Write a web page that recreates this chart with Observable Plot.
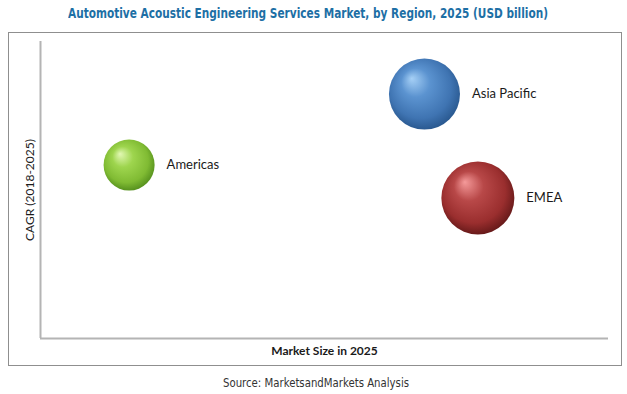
<!DOCTYPE html>
<html>
<head>
<meta charset="utf-8">
<script src="https://cdn.jsdelivr.net/npm/d3@7"></script>
<script src="https://cdn.jsdelivr.net/npm/@observablehq/plot@0.6"></script>
<style>
  body { margin: 0; background: #fff; width: 627px; height: 394px; position: relative; overflow: hidden; }
  .fit { position: absolute; white-space: nowrap; transform-origin: 0 0; }
  #title { top: 5px; font-family: "DejaVu Sans Condensed", "Liberation Sans", sans-serif; font-stretch: condensed;
    font-weight: bold; font-size: 14px; color: #1d6fa5; }
  #box { position: absolute; left: 8px; top: 32px; width: 612px; height: 332px; border: 1px solid #8f8f8f; }
  #box svg { display: block; }
  #source { top: 375px; font-family: "DejaVu Sans Condensed", "Liberation Sans", sans-serif; font-stretch: condensed;
    font-size: 12.5px; color: #333; }
</style>
</head>
<body>
<span id="title" class="fit">Automotive Acoustic Engineering Services Market, by Region, 2025 (USD billion)</span>
<div id="box"></div>
<span id="source" class="fit">Source: MarketsandMarkets Analysis</span>
<script>
const regions = ["Asia Pacific", "EMEA", "Americas"];
const marketSize = [67.6, 77.0, 15.6];   // x: market size in 2025 (relative)
const cagr = [82.3, 47.3, 58.4];         // y: CAGR 2018-2025 (relative)
const bubbleSize = [12.6, 13.3, 6.5];    // bubble size (relative)
const xLabel = "Market Size in 2025";
const yLabel = "CAGR (2018-2025)";

const gradients = {
  "Asia Pacific": ["#a6d0f6", "#5b93d0", "#3f74b2", "#26548a"],
  "EMEA": ["#f59a9a", "#b84848", "#9a2e2e", "#5e1616"],
  "Americas": ["#e2f8b4", "#9ed54e", "#80bb33", "#4f8a1a"]
};
const gid = r => "grad-" + r.replace(/\s+/g, "-");

const rMax = 36.5;
const rScale = d3.scaleSqrt().domain([0, d3.max(bubbleSize)]).range([0, rMax]);

const data = regions.map((r, i) => ({region: r, x: marketSize[i], y: cagr[i], size: bubbleSize[i]}));

const labelFont = "Lato, 'Open Sans', sans-serif";

const chart = Plot.plot({
  width: 612,
  height: 332,
  marginLeft: 31,
  marginTop: 8,
  marginBottom: 27,
  marginRight: 13,
  x: {domain: [0, 100], axis: null},
  y: {domain: [0, 100], axis: null},
  r: {domain: [0, d3.max(bubbleSize)], range: [0, rMax]},
  color: {domain: regions, range: regions.map(r => `url(#${gid(r)})`)},
  style: {fontFamily: labelFont, background: "transparent"},
  marks: [
    Plot.ruleX([0], {stroke: "#b4b4b4", strokeWidth: 2}),
    Plot.ruleY([0], {stroke: "#b4b4b4", strokeWidth: 2}),
    Plot.dot(data, {x: "x", y: "y", r: "size", fill: "region", stroke: null}),
    ...data.map(d => Plot.text([d], {
      x: "x", y: "y", text: "region", textAnchor: "start",
      dx: rScale(d.size) + 12, fontSize: 13, fill: "#1a1a1a", fontFamily: labelFont
    })),
    Plot.text([xLabel], {frameAnchor: "bottom", textAnchor: "middle", dy: 16, text: d => d, fontSize: 12,
      fontWeight: "bold", fill: "#1a1a1a", fontFamily: labelFont}),
    Plot.text([yLabel], {frameAnchor: "left", textAnchor: "middle", dx: -10, rotate: -90, text: d => d, fontSize: 12,
      fill: "#1a1a1a", fontFamily: labelFont})
  ]
});

const svg = d3.select(chart);
const defs = svg.insert("defs", ":first-child");
for (const r of regions) {
  const c = gradients[r];
  const g = defs.append("radialGradient").attr("id", gid(r))
    .attr("cx", "48%").attr("cy", "45%").attr("r", "58%")
    .attr("fx", "32%").attr("fy", "28%");
  g.append("stop").attr("offset", "0%").attr("stop-color", c[0]);
  g.append("stop").attr("offset", "35%").attr("stop-color", c[1]);
  g.append("stop").attr("offset", "75%").attr("stop-color", c[2]);
  g.append("stop").attr("offset", "100%").attr("stop-color", c[3]);
}
document.getElementById("box").appendChild(chart);

// Fit the HTML title and source line to the reference widths
function fit(id, left, right) {
  const el = document.getElementById(id);
  const w = el.getBoundingClientRect().width;
  const s = (right - left) / w;
  el.style.left = left + "px";
  el.style.transform = `scaleX(${s})`;
}
fit("title", 68, 548);
fit("source", 223, 409);
</script>
</body>
</html>
